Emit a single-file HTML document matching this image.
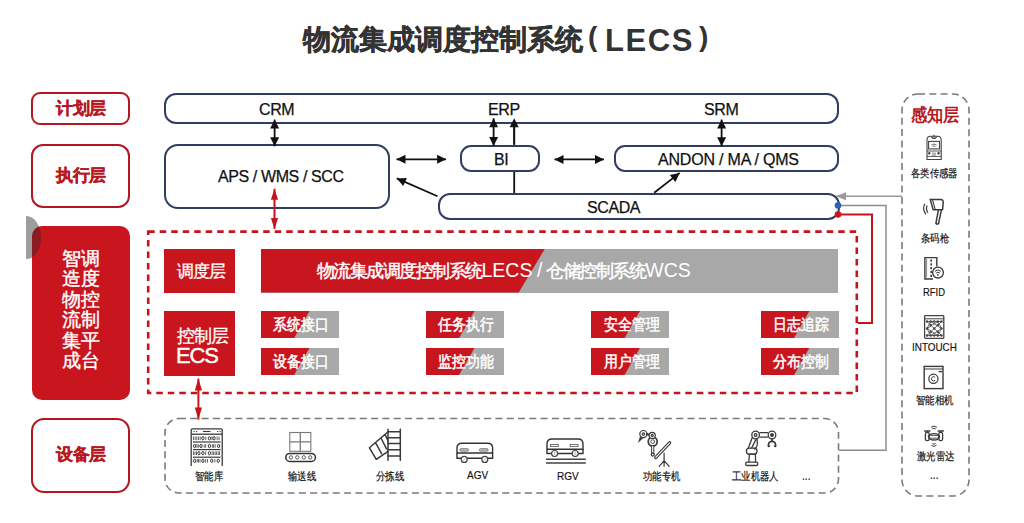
<!DOCTYPE html>
<html><head><meta charset="utf-8">
<style>
html,body{margin:0;padding:0;background:#fff;}
body{width:1024px;height:523px;position:relative;overflow:hidden;font-family:"Liberation Sans",sans-serif;}
.a{position:absolute;box-sizing:border-box;}
.t{position:absolute;white-space:nowrap;line-height:1;}
.lbox{-webkit-text-stroke:0.3px #b71820;border:2.4px solid #b3161e;border-radius:9px;color:#b71820;font-weight:bold;font-size:17px;letter-spacing:-0.5px;padding-left:1px;display:flex;align-items:center;justify-content:center;}
.nbox{border:2px solid #2f3e62;background:#fff;}
.blk{color:#111;font-size:16px;letter-spacing:-0.4px;-webkit-text-stroke:0.25px #111;}
.redf{background:#c9161e;color:#fff;}
.tile{position:absolute;width:78px;height:27.5px;overflow:hidden;background:#a8a8a8;}
.tile i{position:absolute;left:0;top:0;width:100%;height:100%;background:#c9161e;clip-path:polygon(0 0,63% 0,43% 100%,0 100%);}
.tile span{position:absolute;left:0;right:0;top:0;bottom:0;display:flex;align-items:center;justify-content:center;color:#fff;font-size:16px;font-weight:normal;-webkit-text-stroke:0.5px #fff;padding-top:1px;padding-left:3px;line-height:1;}
.tile b{display:inline-block;font-weight:normal;transform:scaleX(.87);}
.lab{position:absolute;font-size:11px;color:#111;white-space:nowrap;line-height:1;transform:scaleX(.85);transform-origin:0 0;-webkit-text-stroke:0.2px #111;}
.lat{font-size:11.5px;transform:scaleX(.87);-webkit-text-stroke:0.15px #111;}
</style></head><body>

<!-- title -->
<div class="t" style="left:303px;top:26px;font-size:27.5px;font-weight:bold;color:#333;-webkit-text-stroke:0.5px #333;">物流集成调度控制系统</div>
<div class="t" style="left:588px;top:23px;font-size:28px;font-weight:bold;color:#333;">(</div>
<div class="t" style="left:605px;top:24.5px;font-size:31px;font-weight:bold;color:#333;letter-spacing:1.6px;">LECS</div>
<div class="t" style="left:699px;top:23px;font-size:28px;font-weight:bold;color:#333;">)</div>

<!-- left column -->
<div class="a lbox" style="left:31px;top:92px;width:99px;height:33px;">计划层</div>
<div class="a lbox" style="left:31px;top:144px;width:99px;height:64px;border-radius:12px;padding-bottom:2px;">执行层</div>
<div class="a" style="left:26.4px;top:216.4px;width:14.7px;height:42.2px;border-radius:0 100% 100% 0/0 50% 50% 0;background:#9d9d9d;"></div>
<div class="a redf" style="left:32.3px;top:226.2px;width:97.3px;height:174px;border-radius:10px;overflow:hidden;"><div style="position:absolute;left:-5.9px;top:-9.8px;width:14.7px;height:42.2px;border-radius:0 100% 100% 0/0 50% 50% 0;background:rgba(24,36,36,0.35);"></div></div>
<div class="t" style="left:62px;top:249px;width:20px;font-size:19px;line-height:20.4px;color:#fff;-webkit-text-stroke:0.4px #fff;white-space:normal;">智造物流集成</div>
<div class="t" style="left:80.5px;top:249px;width:20px;font-size:19px;line-height:20.4px;color:#fff;-webkit-text-stroke:0.4px #fff;white-space:normal;">调度控制平台</div>
<div class="a lbox" style="left:31px;top:417.5px;width:99px;height:75px;border-radius:13px;padding-bottom:2px;">设备层</div>

<!-- top system boxes -->
<svg class="a" style="left:0;top:0;" width="1024" height="523"><line x1="514.2" y1="193.5" x2="514.2" y2="125" stroke="#111" stroke-width="1.8"/></svg>
<div class="a nbox" style="left:164px;top:93px;width:675px;height:31px;border-radius:12px;"></div>
<div class="a nbox" style="left:164px;top:144px;width:226px;height:65px;border-radius:14px;"></div>
<div class="a nbox" style="left:460px;top:145px;width:80px;height:26.5px;border-radius:11px;"></div>
<div class="a nbox" style="left:614px;top:144.5px;width:224.5px;height:27.3px;border-radius:11px;"></div>
<div class="a nbox" style="left:438px;top:192.8px;width:402px;height:27px;border-radius:12px;"></div>

<div class="t blk" style="left:259px;top:102px;">CRM</div>
<div class="t blk" style="left:488px;top:102px;">ERP</div>
<div class="t blk" style="left:704px;top:102px;">SRM</div>
<div class="t blk" style="left:218px;top:169px;">APS / WMS / SCC</div>
<div class="t blk" style="left:494px;top:152px;">BI</div>
<div class="t blk" style="left:658px;top:152px;letter-spacing:-0.2px;">ANDON / MA / QMS</div>
<div class="t blk" style="left:587px;top:200px;">SCADA</div>

<!-- dashed red box -->
<svg class="a" style="left:0;top:0;" width="1024" height="523"><rect x="148.2" y="231.6" width="708.6" height="161.4" fill="none" stroke="#c4141c" stroke-width="2.6" stroke-dasharray="6.5 5"/></svg>
<div class="a redf" style="left:164px;top:248.6px;width:71px;height:44px;"></div><div class="t" style="left:176.5px;top:263px;font-size:17px;letter-spacing:-0.6px;color:#fff;-webkit-text-stroke:0.3px #fff;">调度层</div>
<div class="a" style="left:260.5px;top:248.6px;width:577.5px;height:44px;background:#a8a8a8;overflow:hidden;">
  <div style="position:absolute;inset:0;background:#c9161e;clip-path:polygon(0 0,284.5px 0,258.2px 100%,0 100%);"></div>
  <div class="t" style="left:56px;top:12.5px;font-size:17.5px;color:#fff;letter-spacing:-1.5px;-webkit-text-stroke:0.45px #fff;">物流集成调度控制系统<span style="font-size:19.5px;letter-spacing:0;-webkit-text-stroke:0;">LECS</span><span style="font-size:19.5px;letter-spacing:-0.8px;-webkit-text-stroke:0;"> / </span>仓储控制系统<span style="font-size:19.5px;letter-spacing:0;-webkit-text-stroke:0;">WCS</span></div>
</div>
<div class="a redf" style="left:164px;top:311px;width:71px;height:65px;"></div>
<div class="t" style="left:176.5px;top:327.5px;font-size:17.5px;letter-spacing:-0.7px;color:#fff;-webkit-text-stroke:0.3px #fff;">控制层</div>
<div class="t" style="left:176px;top:344.5px;font-size:22px;color:#fff;letter-spacing:-1.1px;-webkit-text-stroke:0.4px #fff;">ECS</div>

<div class="tile" style="left:260.6px;top:310.6px;"><i></i><span><b>系统接口</b></span></div>
<div class="tile" style="left:260.6px;top:347.5px;"><i></i><span><b>设备接口</b></span></div>
<div class="tile" style="left:425.6px;top:310.6px;"><i></i><span><b>任务执行</b></span></div>
<div class="tile" style="left:425.6px;top:347.5px;"><i></i><span><b>监控功能</b></span></div>
<div class="tile" style="left:591px;top:310.6px;"><i></i><span><b>安全管理</b></span></div>
<div class="tile" style="left:591px;top:347.5px;"><i></i><span><b>用户管理</b></span></div>
<div class="tile" style="left:760.5px;top:310.6px;"><i></i><span><b>日志追踪</b></span></div>
<div class="tile" style="left:760.5px;top:347.5px;"><i></i><span><b>分布控制</b></span></div>

<!-- equipment panel -->
<svg class="a" style="left:0;top:0;" width="1024" height="523"><rect x="165" y="418.5" width="673.5" height="74.5" rx="14" fill="none" stroke="#7a7a7a" stroke-width="1.6" stroke-dasharray="7 4.3"/></svg>
<div class="lab" style="left:194.5px;top:470.5px;">智能库</div>
<div class="lab" style="left:287.5px;top:470.5px;">输送线</div>
<div class="lab" style="left:376px;top:470.5px;">分拣线</div>
<div class="lab lat" style="left:467px;top:470px;">AGV</div>
<div class="lab lat" style="left:557px;top:471px;">RGV</div>
<div class="lab" style="left:642.5px;top:470.5px;">功能专机</div>
<div class="lab" style="left:732px;top:470.5px;">工业机器人</div>
<div class="lab" style="left:802px;top:470px;font-size:12px;">...</div>

<!-- right panel -->
<svg class="a" style="left:0;top:0;" width="1024" height="523"><rect x="902" y="94" width="67" height="402" rx="16" fill="none" stroke="#7a7a7a" stroke-width="1.6" stroke-dasharray="7 4.3"/></svg>
<div class="t" style="left:911px;top:106px;font-size:18px;transform:scaleX(.9);transform-origin:0 0;font-weight:bold;color:#b71820;">感知层</div>
<div class="lab" style="left:911px;top:168px;">各类传感器</div>
<div class="lab" style="left:920.5px;top:233px;">条码枪</div>
<div class="lab lat" style="left:923px;top:287px;font-size:10.5px;transform:scaleX(.9);">RFID</div>
<div class="lab lat" style="left:912px;top:341.5px;font-size:11.5px;transform:scaleX(.86);">INTOUCH</div>
<div class="lab" style="left:916px;top:394.5px;">智能相机</div>
<div class="lab" style="left:916.5px;top:451px;">激光雷达</div>
<div class="lab" style="left:930px;top:469px;font-size:12px;">...</div>

<!-- lines & arrows -->
<svg class="a" style="left:0;top:0;" width="1024" height="523" viewBox="0 0 1024 523">
<line x1="274.6" y1="119.6" x2="274.6" y2="146.3" stroke="#111" stroke-width="1.8"/>
<path d="M274.6 146.3L270.1 137.3L279.1 137.3Z" fill="#111"/>
<path d="M274.6 119.6L279.1 128.6L270.1 128.6Z" fill="#111"/>
<line x1="493.6" y1="118.3" x2="493.6" y2="145.9" stroke="#111" stroke-width="1.8"/>
<path d="M493.6 145.9L489.1 136.9L498.1 136.9Z" fill="#111"/>
<path d="M493.6 118.3L498.1 127.3L489.1 127.3Z" fill="#111"/>
<path d="M514.2 118.3L518.7 127.3L509.7 127.3Z" fill="#111"/>
<line x1="514.2" y1="126" x2="514.2" y2="144" stroke="#111" stroke-width="1.8"/>
<line x1="721.6" y1="119.6" x2="721.6" y2="146.3" stroke="#111" stroke-width="1.8"/>
<path d="M721.6 146.3L717.1 137.3L726.1 137.3Z" fill="#111"/>
<path d="M721.6 119.6L726.1 128.6L717.1 128.6Z" fill="#111"/>
<line x1="396.5" y1="159.3" x2="446.1" y2="159.3" stroke="#111" stroke-width="1.8"/>
<path d="M446.1 159.3L437.1 163.8L437.1 154.8Z" fill="#111"/>
<path d="M396.5 159.3L405.5 154.8L405.5 163.8Z" fill="#111"/>
<line x1="554.5" y1="159.4" x2="604" y2="159.4" stroke="#111" stroke-width="1.8"/>
<path d="M604.0 159.4L595.0 163.9L595.0 154.9Z" fill="#111"/>
<path d="M554.5 159.4L563.5 154.9L563.5 163.9Z" fill="#111"/>
<line x1="437.5" y1="196.3" x2="396.8" y2="178.4" stroke="#111" stroke-width="1.8"/>
<path d="M396.8 178.4L406.9 177.9L403.2 186.1Z" fill="#111"/>
<line x1="654.2" y1="192.8" x2="679.7" y2="172.9" stroke="#111" stroke-width="1.8"/>
<path d="M679.7 172.9L675.4 182.0L669.8 174.9Z" fill="#111"/>
<line x1="274.5" y1="188.7" x2="274.5" y2="228.9" stroke="#c4141c" stroke-width="2"/>
<path d="M274.5 228.9L270.9 217.9L278.1 217.9Z" fill="#c4141c"/>
<path d="M274.5 188.7L278.1 199.7L270.9 199.7Z" fill="#c4141c"/>
<line x1="198.4" y1="378.6" x2="198.4" y2="419.6" stroke="#c4141c" stroke-width="2"/>
<path d="M198.4 419.6L194.8 407.6L202.0 407.6Z" fill="#c4141c"/>
<path d="M198.4 378.6L202.0 390.6L194.8 390.6Z" fill="#c4141c"/>
<polyline points="838,205.5 886,205.5 886,450.3 839,450.3" fill="none" stroke="#8c8c8c" stroke-width="1.5"/>
<polyline points="838,214.5 872,214.5 872,323 858,323" fill="none" stroke="#c4141c" stroke-width="2"/>
<line x1="902" y1="196.3" x2="836" y2="196.3" stroke="#9a9a9a" stroke-width="1.5"/>
<path d="M836.0 196.3L846.0 192.3L846.0 200.3Z" fill="#9a9a9a"/>
<circle cx="838" cy="205.5" r="3.3" fill="#2a62b0"/>
<circle cx="838" cy="214.5" r="3.3" fill="#d0141c"/>

<svg class="a" style="left:0;top:0;" width="1024" height="523"><g fill="none" stroke="#3a3a3a" stroke-width="1.3">
<path d="M191.2 466V430Q191.2 428.8 192.4 428.8H221Q222.2 428.8 222.2 430V466"/>
<path d="M191.2 434.2H222.2"/>
<path d="M203 431.5H210.5" stroke-width="1.1"/>
<path d="M193.5 431.5h1.2M196 431.5h1.2M217 431.5h1.2M219.5 431.5h1.2" stroke-width="1"/>
<path d="M193 442H220.5" stroke-width="1.2"/>
<path d="M193 449.6H220.5" stroke-width="1.2"/>
<path d="M193 457.2H220.5" stroke-width="1.2"/>
</g>
<rect x="192.96" y="436.5" width="0.9" height="3.6" fill="#555"/>
<rect x="194.65" y="436.5" width="0.9" height="3.6" fill="#555"/>
<rect x="196.33" y="436.5" width="0.9" height="3.6" fill="#555"/>
<rect x="198.01" y="436.5" width="0.9" height="3.6" fill="#555"/>
<rect x="199.69" y="436.5" width="0.9" height="3.6" fill="#555"/>
<ellipse cx="202.92" cy="438.3" rx="1.15" ry="1.65" fill="none" stroke="#333" stroke-width="1"/>
<rect x="205.41" y="436.5" width="0.9" height="3.6" fill="#555"/>
<ellipse cx="209.40" cy="438.3" rx="1.15" ry="1.65" fill="none" stroke="#333" stroke-width="1"/>
<rect x="211.47" y="436.5" width="0.9" height="3.6" fill="#555"/>
<ellipse cx="214.03" cy="438.3" rx="1.15" ry="1.65" fill="none" stroke="#333" stroke-width="1"/>
<rect x="216.69" y="436.5" width="0.9" height="3.6" fill="#555"/>
<rect x="218.62" y="436.5" width="0.9" height="3.6" fill="#555"/>
<ellipse cx="194.68" cy="446.0" rx="1.15" ry="1.65" fill="none" stroke="#333" stroke-width="1"/>
<rect x="196.50" y="444.2" width="0.9" height="3.6" fill="#555"/>
<rect x="197.84" y="444.2" width="0.9" height="3.6" fill="#555"/>
<ellipse cx="200.99" cy="446.0" rx="1.15" ry="1.65" fill="none" stroke="#333" stroke-width="1"/>
<rect x="203.73" y="444.2" width="0.9" height="3.6" fill="#555"/>
<rect x="205.25" y="444.2" width="0.9" height="3.6" fill="#555"/>
<ellipse cx="209.40" cy="446.0" rx="1.15" ry="1.65" fill="none" stroke="#333" stroke-width="1"/>
<rect x="211.89" y="444.2" width="0.9" height="3.6" fill="#555"/>
<rect x="213.16" y="444.2" width="0.9" height="3.6" fill="#555"/>
<rect x="214.67" y="444.2" width="0.9" height="3.6" fill="#555"/>
<ellipse cx="218.65" cy="446.0" rx="1.15" ry="1.65" fill="none" stroke="#333" stroke-width="1"/>
<rect x="192.96" y="451.4" width="0.9" height="3.6" fill="#555"/>
<rect x="194.48" y="451.4" width="0.9" height="3.6" fill="#555"/>
<rect x="195.99" y="451.4" width="0.9" height="3.6" fill="#555"/>
<ellipse cx="198.88" cy="453.2" rx="1.15" ry="1.65" fill="none" stroke="#333" stroke-width="1"/>
<ellipse cx="202.92" cy="453.2" rx="1.15" ry="1.65" fill="none" stroke="#333" stroke-width="1"/>
<rect x="205.25" y="451.4" width="0.9" height="3.6" fill="#555"/>
<ellipse cx="209.40" cy="453.2" rx="1.15" ry="1.65" fill="none" stroke="#333" stroke-width="1"/>
<rect x="211.64" y="451.4" width="0.9" height="3.6" fill="#555"/>
<rect x="213.16" y="451.4" width="0.9" height="3.6" fill="#555"/>
<rect x="214.67" y="451.4" width="0.9" height="3.6" fill="#555"/>
<rect x="216.18" y="451.4" width="0.9" height="3.6" fill="#555"/>
<rect x="217.78" y="451.4" width="0.9" height="3.6" fill="#555"/>
<rect x="219.04" y="451.4" width="0.9" height="3.6" fill="#555"/>
<ellipse cx="194.68" cy="460.8" rx="1.15" ry="1.65" fill="none" stroke="#333" stroke-width="1"/>
<rect x="196.75" y="459.0" width="0.9" height="3.6" fill="#555"/>
<rect x="198.01" y="459.0" width="0.9" height="3.6" fill="#555"/>
<rect x="199.53" y="459.0" width="0.9" height="3.6" fill="#555"/>
<ellipse cx="202.92" cy="460.8" rx="1.15" ry="1.65" fill="none" stroke="#333" stroke-width="1"/>
<rect x="205.25" y="459.0" width="0.9" height="3.6" fill="#555"/>
<rect x="207.10" y="459.0" width="0.9" height="3.6" fill="#555"/>
<ellipse cx="211.75" cy="460.8" rx="1.15" ry="1.65" fill="none" stroke="#333" stroke-width="1"/>
<rect x="214.42" y="459.0" width="0.9" height="3.6" fill="#555"/>
<ellipse cx="218.23" cy="460.8" rx="1.15" ry="1.65" fill="none" stroke="#333" stroke-width="1"/>
<g fill="none" stroke="#7a7a7a" stroke-width="1.1"><rect x="289.8" y="432.5" width="21" height="18.8"/><path d="M300.3 432.5V451.3M289.8 441.9H310.8" stroke-width="1.3"/></g>
<rect x="285.8" y="453.4" width="29.6" height="8" rx="4" fill="none" stroke="#333" stroke-width="1.5"/>
<circle cx="290.9" cy="457.4" r="1.7" fill="none" stroke="#444" stroke-width="0.9"/>
<circle cx="297.3" cy="457.4" r="1.7" fill="none" stroke="#444" stroke-width="0.9"/>
<circle cx="303.8" cy="457.4" r="1.7" fill="none" stroke="#444" stroke-width="0.9"/>
<circle cx="310.2" cy="457.4" r="1.7" fill="none" stroke="#444" stroke-width="0.9"/>
<g fill="none" stroke="#3a3a3a" stroke-width="1.5" stroke-linecap="round">
<path d="M388 429.3V460.2M400.3 429.3V460.2"/>
<path d="M388 431.8H400.3"/>
<path d="M388 437.7H400.3"/>
<path d="M388 443.6H400.3"/>
<path d="M388 449.8H400.3"/>
<path d="M388 456H400.3"/>
<path d="M369.4 447.8L387.5 432.3M376.3 459.3L388 451.3M369.4 447.8L376.3 459.3M375.5 442.6L381.6 453.6M381 438L386.5 448.8M385.2 434.8L388 440.8"/>
</g>
<g fill="none" stroke="#333" stroke-width="1.4">
<path d="M457 453V448Q457 443.2 462 443.2H487.5Q492.6 443.2 492.6 448V453Z"/>
<path d="M457 453V458.2H492.6V453"/>
</g>
<rect x="459.8" y="448.6" width="8.8" height="2.6" rx="1.3" fill="#bbb" stroke="#555" stroke-width="0.6"/>
<rect x="479.4" y="448.6" width="8.8" height="2.6" rx="1.3" fill="#bbb" stroke="#555" stroke-width="0.6"/>
<circle cx="464.2" cy="459.4" r="3" fill="#fff" stroke="#444" stroke-width="1.2"/><path d="M463.0 460.6L465.4 458.2" stroke="#888" stroke-width="0.7"/>
<circle cx="484.8" cy="459.4" r="3" fill="#fff" stroke="#444" stroke-width="1.2"/><path d="M483.6 460.6L486.0 458.2" stroke="#888" stroke-width="0.7"/>
<g fill="none" stroke="#333" stroke-width="1.4">
<path d="M547 449.2V444Q547 439 552 439H578Q583 439 583 444V449.2Z"/>
<path d="M547 449.2V453.5H583V449.2"/>
<path d="M546 459.3H585.8M546 463.1H585.8" stroke="#444" stroke-width="1.5"/>
</g>
<rect x="550.5" y="444.4" width="7.8" height="2.2" fill="none" stroke="#555" stroke-width="0.8"/>
<rect x="570.2" y="444.4" width="7.8" height="2.2" fill="none" stroke="#555" stroke-width="0.8"/>
<circle cx="554.6" cy="453.5" r="3" fill="#fff" stroke="#444" stroke-width="1.2"/><path d="M554.6 452V455" stroke="#888" stroke-width="0.7"/>
<circle cx="575.2" cy="453.5" r="3" fill="#fff" stroke="#444" stroke-width="1.2"/><path d="M575.2 452V455" stroke="#888" stroke-width="0.7"/>
<g fill="none" stroke="#3a3a3a" stroke-width="1.2" stroke-linecap="round">
<path d="M640.6 436.4L639.2 441L642.6 437.8" fill="#3a3a3a"/>
<circle cx="643.4" cy="434.1" r="3.6" fill="#fff"/><circle cx="643.4" cy="434.1" r="1.2"/>
<path d="M646.9 434.2L649.2 434.8" stroke-width="2.2"/>
<circle cx="652.7" cy="441.6" r="4.5" stroke-width="1.7"/><circle cx="652.7" cy="441.6" r="1.9" stroke-width="0.9"/>
<circle cx="652.2" cy="435.4" r="3.1" fill="#fff"/><circle cx="652.2" cy="435.4" r="1"/>
<rect x="651.6" y="445.5" width="2.2" height="8" stroke-width="1" fill="#fff"/>
<circle cx="652.7" cy="454.6" r="1.5" fill="#fff"/>
<path d="M655.8 457.4L669.6 442.8" stroke-width="3.4"/><path d="M655.8 457.4L669.6 442.8" stroke="#fff" stroke-width="1.1"/>
<path d="M664.1 453.2V466.2M664.1 460.6L659.2 466.4M664.1 460.6L669.2 466.4"/>
</g>
<g fill="none" stroke="#3a3a3a" stroke-width="1.3" stroke-linejoin="round">
<rect x="745.6" y="462.2" width="12.2" height="3.3" rx="1.6"/>
<path d="M748.8 462.2L749.4 454.2H755.4L755.6 462.2"/>
<rect x="746.4" y="448.2" width="10.6" height="6" rx="3"/>
<path d="M748.3 448.2L752.3 437.6M751.5 448.2L756 439.4M757 439 Q758.5 448 754 449"/>
<circle cx="755.6" cy="435" r="3.8"/><circle cx="755.6" cy="435" r="1.3"/>
<path d="M759.4 432.6H768.2M759.4 437.2H768.2"/>
<circle cx="772" cy="435" r="3.8"/><circle cx="772" cy="435" r="1.3" fill="#3a3a3a"/>
<path d="M772 438.8V441.2" stroke-width="1.8"/>
<path d="M768.4 447Q767.8 441.4 772 441.4Q776.2 441.4 775.6 447" stroke-width="1.7"/>
<path d="M768.4 447L770.2 445.6M775.6 447L773.8 445.6" stroke-width="1.2"/>
</g>
<g fill="none" stroke="#444" stroke-width="1.1">
<path d="M927 159.5V140Q927 136.3 930.5 136.3H937.5Q941.2 136.3 941.2 140V159.5Z"/>
<path d="M931 136.3L932.8 138.5H935.2L937 136.3M934 134.8V138.5"/>
<rect x="928.6" y="141.4" width="10.9" height="7.5"/>
<path d="M931.5 145Q934 143 936.6 145M932.6 146.4Q934 145.4 935.4 146.4" stroke-width="0.8"/>
<path d="M927 156.4H941.2M927 151H941.2" stroke-width="0.9"/>
<path d="M932 153.2H936M932 155H936" stroke-width="0.7"/>
</g>
<circle cx="929.3" cy="153.3" r="1.2" fill="#444"/><circle cx="938.6" cy="153.3" r="1.2" fill="#444"/>
<g fill="none" stroke="#3a3a3a" stroke-width="1.5" stroke-linejoin="round">
<path d="M930.2 199.4H940.6Q943.4 199.4 943.2 202.4L942.6 209.8H933.2Z"/>
<path d="M932.6 200.2L935.2 209.4" stroke-width="1.1"/>
<path d="M938.4 209.8L935.9 223.4Q937.4 224.8 938.6 223.4L941.4 209.8"/>
<path d="M927.2 205.6Q925.4 209.2 927.9 212.6M924.9 203.8Q921.9 209.2 925.9 214.3" stroke-width="1.2"/>
</g>
<g fill="none" stroke="#3a3a3a" stroke-width="1.4">
<path d="M936.8 266.5V257.6H924.9V279H933"/>
<path d="M926.6 259V277.5" stroke-width="0.6"/>
<path d="M931.2 259.5V277" stroke-dasharray="2.2 1.6" stroke-width="1.6"/>
<circle cx="938" cy="272.6" r="5.4" fill="#fff" stroke-width="1.3"/>
<path d="M934.9 271.3Q938 268.4 941.1 271.3M936.2 273Q938 271.4 939.8 273" stroke-width="1"/>
</g>
<circle cx="938" cy="274.8" r="0.9" fill="#3a3a3a"/>
<g fill="none" stroke="#444" stroke-width="1.3">
<rect x="924.6" y="315.6" width="19.2" height="22.8" rx="0.8"/>
<path d="M924.6 318.8H943.8" stroke-width="1"/>
<path d="M927 321.5L941.5 335.5M941.5 321.5L927 335.5M930.6 321.5L927 328.5L930.6 335.5M937.8 321.5L941.5 328.5L937.8 335.5M930.6 321.5L941.5 328.5M937.8 321.5L927 328.5M930.6 335.5L941.5 328.5M937.8 335.5L927 328.5M927 321.5H941.5M927 335.5H941.5" stroke-width="0.8"/>
</g>
<circle cx="927" cy="321.5" r="1.2" fill="#444"/>
<circle cx="930.6" cy="321.5" r="1.2" fill="#444"/>
<circle cx="934.2" cy="321.5" r="1.2" fill="#444"/>
<circle cx="937.8" cy="321.5" r="1.2" fill="#444"/>
<circle cx="941.5" cy="321.5" r="1.2" fill="#444"/>
<circle cx="927" cy="328.5" r="1.2" fill="#444"/>
<circle cx="934.2" cy="328.5" r="1.2" fill="#444"/>
<circle cx="941.5" cy="328.5" r="1.2" fill="#444"/>
<circle cx="927" cy="335.5" r="1.2" fill="#444"/>
<circle cx="930.6" cy="335.5" r="1.2" fill="#444"/>
<circle cx="934.2" cy="335.5" r="1.2" fill="#444"/>
<circle cx="937.8" cy="335.5" r="1.2" fill="#444"/>
<circle cx="941.5" cy="335.5" r="1.2" fill="#444"/>
<circle cx="930.6" cy="325" r="1.2" fill="#444"/>
<circle cx="937.8" cy="325" r="1.2" fill="#444"/>
<circle cx="930.6" cy="332" r="1.2" fill="#444"/>
<circle cx="937.8" cy="332" r="1.2" fill="#444"/>
<g fill="none" stroke="#3a3a3a" stroke-width="1.4">
<rect x="924.2" y="366.4" width="18.8" height="22.2"/>
<path d="M924.2 369H943" stroke-width="1"/>
<path d="M938.6 371.6H942" stroke-width="1.4"/>
<circle cx="933.4" cy="378.8" r="4.6" stroke-width="1.2"/>
<path d="M935.1 377.4A2.1 2.1 0 1 0 935.1 380.2" stroke-width="1"/>
</g>
<g fill="none" stroke="#3a3a3a" stroke-width="1.3">
<ellipse cx="934" cy="436.8" rx="5.6" ry="3.2"/>
<path d="M929.5 435.4H938.5M929.5 438.2H938.5" stroke-width="0.9"/>
<path d="M924.2 431H930.4M937.6 431H943.8" stroke-width="1.3"/>
<rect x="925.4" y="432.4" width="3.8" height="8.2" rx="1.7"/><rect x="938.8" y="432.4" width="3.8" height="8.2" rx="1.7"/>
<path d="M927.3 431V432.4M940.7 431V432.4" stroke-width="1"/>
<path d="M931 427.4Q934 424.6 937 427.4M932.3 429Q934 427.8 935.7 429" stroke-width="1"/>
<path d="M931.4 445.2Q934 447.8 936.6 445.2M932.5 443.6Q934 444.8 935.5 443.6" stroke-width="1"/>
</g></svg>

</svg>

</body></html>
